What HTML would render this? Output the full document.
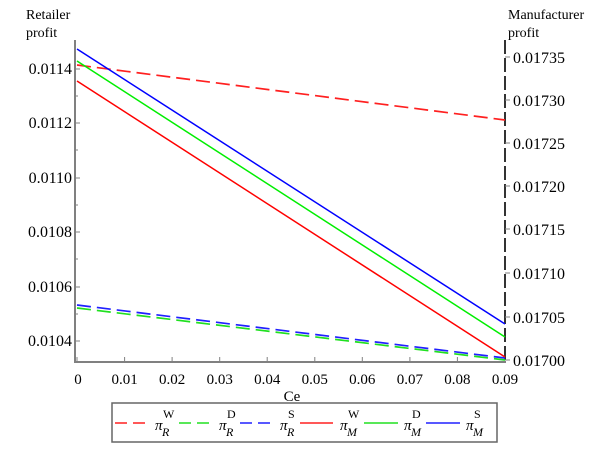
<!DOCTYPE html>
<html><head><style>body{margin:0;background:#fff}svg{display:block}</style></head><body>
<svg width="600" height="450" xmlns="http://www.w3.org/2000/svg" font-family="Liberation Serif, serif" font-size="14" fill="#000">
<rect width="600" height="450" fill="#fff"/>
<text x="26" y="19">Retailer</text><text x="26" y="37">profit</text>
<text x="508" y="19">Manufacturer</text><text x="508" y="37">profit</text>
<line x1="75" y1="40" x2="75" y2="362" stroke="#808080" stroke-width="2"/>
<line x1="74" y1="362" x2="506" y2="362" stroke="#808080" stroke-width="2"/>
<line x1="505" y1="40" x2="505" y2="362" stroke="#333" stroke-width="2" stroke-dasharray="14,4"/>
<g stroke="#808080" stroke-width="1">
<line x1="75" y1="69" x2="80" y2="69"/><line x1="75" y1="123" x2="80" y2="123"/><line x1="75" y1="178" x2="80" y2="178"/><line x1="75" y1="232" x2="80" y2="232"/><line x1="75" y1="287" x2="80" y2="287"/><line x1="75" y1="341" x2="80" y2="341"/>
<line x1="75" y1="96" x2="78" y2="96"/><line x1="75" y1="150" x2="78" y2="150"/><line x1="75" y1="205" x2="78" y2="205"/><line x1="75" y1="259" x2="78" y2="259"/><line x1="75" y1="314" x2="78" y2="314"/>
<line x1="505" y1="57" x2="510" y2="57"/><line x1="505" y1="100" x2="510" y2="100"/><line x1="505" y1="143" x2="510" y2="143"/><line x1="505" y1="186" x2="510" y2="186"/><line x1="505" y1="229" x2="510" y2="229"/><line x1="505" y1="273" x2="510" y2="273"/><line x1="505" y1="317" x2="510" y2="317"/><line x1="505" y1="360" x2="510" y2="360"/>
<line x1="77" y1="362" x2="77" y2="357"/><line x1="124.6" y1="362" x2="124.6" y2="357"/><line x1="172.1" y1="362" x2="172.1" y2="357"/><line x1="219.7" y1="362" x2="219.7" y2="357"/><line x1="267.2" y1="362" x2="267.2" y2="357"/><line x1="314.8" y1="362" x2="314.8" y2="357"/><line x1="362.3" y1="362" x2="362.3" y2="357"/><line x1="409.9" y1="362" x2="409.9" y2="357"/><line x1="457.4" y1="362" x2="457.4" y2="357"/>
</g>
<g text-anchor="end" font-size="16">
<text x="72" y="74">0.0114</text><text x="72" y="128">0.0112</text><text x="72" y="183">0.0110</text><text x="72" y="237">0.0108</text><text x="72" y="292">0.0106</text><text x="72" y="346">0.0104</text>
</g>
<g font-size="16" textLength="55">
<text x="513" y="63">0.01735</text><text x="513" y="106">0.01730</text><text x="513" y="149">0.01725</text><text x="513" y="192">0.01720</text><text x="513" y="235">0.01715</text><text x="513" y="279">0.01710</text><text x="513" y="323">0.01705</text><text x="513" y="366">0.01700</text>
</g>
<g text-anchor="middle" font-size="15">
<text x="78" y="384">0</text><text x="124.6" y="384">0.01</text><text x="172.1" y="384">0.02</text><text x="219.7" y="384">0.03</text><text x="267.2" y="384">0.04</text><text x="314.8" y="384">0.05</text><text x="362.3" y="384">0.06</text><text x="409.9" y="384">0.07</text><text x="457.4" y="384">0.08</text><text x="505" y="384">0.09</text>
<text x="292" y="401">Ce</text>
</g>
<g stroke-width="1.5" fill="none">
<line x1="77" y1="65" x2="505" y2="120" stroke="#ff2020" stroke-width="1.7" stroke-dasharray="14,6"/>
<line x1="77" y1="305" x2="505" y2="358" stroke="#2020ff" stroke-width="1.7" stroke-dasharray="14,6"/>
<line x1="77" y1="308" x2="505" y2="360" stroke="#20e020" stroke-width="1.7" stroke-dasharray="14,6"/>
<line x1="77" y1="49" x2="505" y2="324" stroke="#0000ff"/>
<line x1="77" y1="61" x2="505" y2="337" stroke="#00ee00"/>
<line x1="77" y1="81" x2="505" y2="357" stroke="#ff0000"/>
</g>
<rect x="112" y="403" width="385" height="39" fill="#fff" stroke="#666" stroke-width="1.5"/>
<g stroke-width="1.5">
<line x1="115" y1="423" x2="150" y2="423" stroke="#ff2020" stroke-dasharray="12,6"/>
<line x1="179" y1="423" x2="214" y2="423" stroke="#20e020" stroke-dasharray="12,6"/>
<line x1="240" y1="423" x2="274" y2="423" stroke="#2020ff" stroke-dasharray="12,6"/>
<line x1="300" y1="423" x2="333" y2="423" stroke="#ff2020"/>
<line x1="364" y1="423" x2="398" y2="423" stroke="#20e020"/>
<line x1="426" y1="423" x2="460" y2="423" stroke="#2020ff"/>
</g>
<g font-size="15" font-style="italic">
<text x="155" y="430">π</text><text x="219" y="430">π</text><text x="280" y="430">π</text><text x="340" y="430">π</text><text x="404" y="430">π</text><text x="466" y="430">π</text>
</g>
<g font-size="12">
<text x="163" y="418">W</text><text x="227" y="418">D</text><text x="288" y="418">S</text><text x="348" y="418">W</text><text x="412" y="418">D</text><text x="474" y="418">S</text>
<g font-style="italic"><text x="162" y="436">R</text><text x="226" y="436">R</text><text x="287" y="436">R</text><text x="347" y="436">M</text><text x="411" y="436">M</text><text x="473" y="436">M</text></g>
</g>
</svg>
</body></html>
